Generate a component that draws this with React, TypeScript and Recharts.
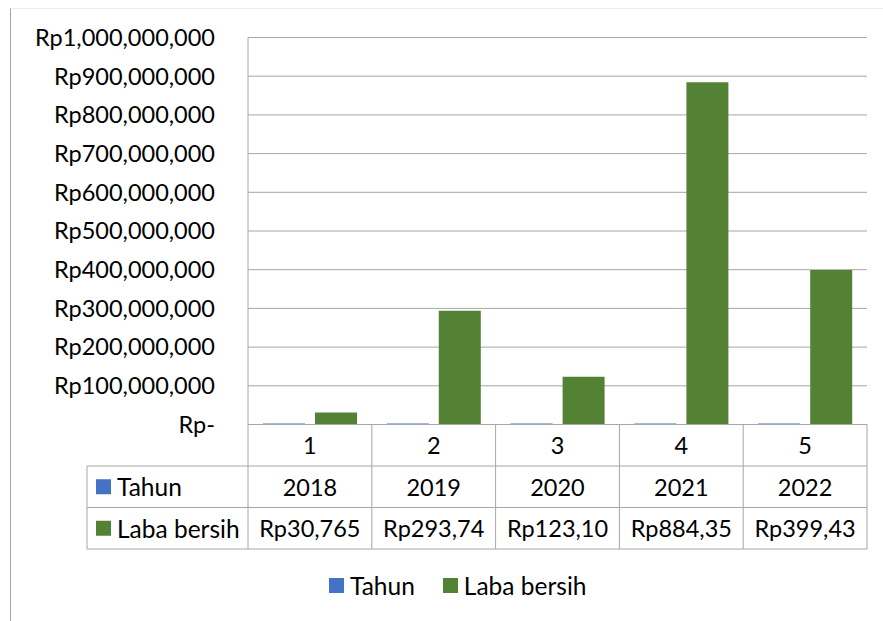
import React from "react"
import { ComposedChart, Bar, XAxis, YAxis, CartesianGrid, Legend } from "recharts"

// category labels (row 1 of the data table)
const categories = ["1", "2", "3", "4", "5"]
// "Tahun" series
const tahun = [2018, 2019, 2020, 2021, 2022]
// "Laba bersih" series (rupiah)
const labaBersih = [30765000, 293740000, 123100000, 884350000, 399430000]
// how the table cells show the laba values (truncated in the original)
const labaLabels = ["Rp30,765", "Rp293,74", "Rp123,10", "Rp884,35", "Rp399,43"]
const yTicks = [0, 100000000, 200000000, 300000000, 400000000, 500000000, 600000000, 700000000, 800000000, 900000000, 1000000000]

const seriesNames = ["Tahun", "Laba bersih"]
const seriesColors = ["#4472C4", "#548235"]

const data = categories.map((c, i) => ({ category: c, tahun: tahun[i], laba: labaBersih[i] }))

const W = 883
const H = 621
const PLOT_LEFT = 248
const PLOT_RIGHT = 867
const PLOT_TOP = 37.5
const PLOT_BOTTOM = 424.5
const ROW_H = 41.5
const TABLE_LEFT = 87
const GRID = "#a6a6a6"
const FONT = 23.5

const formatRp = (v: number) => (v === 0 ? "Rp-" : "Rp" + v.toLocaleString("en-US"))

const TableTick = (props: any) => {
  const { x, y, payload } = props
  const idx = payload.index ?? props.index ?? 0
  const half = (PLOT_RIGHT - PLOT_LEFT) / categories.length / 2
  const cells = [String(payload.value), String(tahun[idx]), labaLabels[idx]]
  return (
    <g>
      {idx === 0 && <line x1={x - half} y1={y} x2={x - half} y2={y + 3 * ROW_H} stroke={GRID} />}
      <line x1={x + half} y1={y} x2={x + half} y2={y + 3 * ROW_H} stroke={GRID} />
      {[0, 1, 2, 3].map((r) => (
        <line key={r} x1={x - half} y1={y + r * ROW_H} x2={x + half} y2={y + r * ROW_H} stroke={GRID} />
      ))}
      {cells.map((t, r) => (
        <text
          key={"t" + r}
          x={x}
          y={y + r * ROW_H + ROW_H / 2}
          textAnchor="middle"
          dominantBaseline="central"
          fill="#000"
          fontSize={FONT}
        >
          {t}
        </text>
      ))}
    </g>
  )
}

const LegendContent = (props: any) => {
  const items = [...(props.payload || [])].sort(
    (a: any, b: any) => seriesNames.indexOf(a.value) - seriesNames.indexOf(b.value),
  )
  return (
    <div style={{ display: "flex", alignItems: "center", gap: 28, fontSize: 24.5, color: "#000", whiteSpace: "nowrap" }}>
      {items.map((it: any) => (
        <div key={it.value} style={{ display: "flex", alignItems: "center", gap: 6 }}>
          <span style={{ width: 15, height: 15, background: it.color, display: "inline-block" }} />
          <span>{it.value}</span>
        </div>
      ))}
    </div>
  )
}

export default function App() {
  const rowTop = PLOT_BOTTOM + ROW_H
  return (
    <div style={{ position: "absolute", left: 0, top: 0, width: W, height: H, fontFamily: "Lato", background: "#fff" }}>
      <div
        style={{
          position: "absolute",
          left: 10,
          top: 8,
          width: W - 10,
          height: H - 8,
          borderLeft: "1px solid #a6a6a6",
          borderTop: "1px solid #eeeeee",
        }}
      />
      <ComposedChart
        width={W}
        height={H}
        data={data}
        margin={{ top: PLOT_TOP, right: W - PLOT_RIGHT, left: 0, bottom: H - PLOT_BOTTOM - 3 * ROW_H }}
        barGap={10}
        style={{ position: "absolute", left: 0, top: 0 }}
      >
        <CartesianGrid vertical={false} stroke={GRID} />
        <XAxis
          dataKey="category"
          height={3 * ROW_H}
          axisLine={false}
          tickLine={false}
          tickSize={0}
          tickMargin={0}
          interval={0}
          tick={<TableTick />}
        />
        <YAxis
          width={PLOT_LEFT}
          domain={[0, 1000000000]}
          ticks={yTicks}
          tickFormatter={formatRp}
          axisLine={{ stroke: GRID }}
          tickLine={false}
          tickSize={0}
          tickMargin={33}
          tick={{ fill: "#000", fontSize: FONT }}
        />
        <Legend
          verticalAlign="middle"
          align="center"
          content={<LegendContent />}
          wrapperStyle={{ top: 571, left: 329, width: "auto" }}
        />
        <Bar dataKey="tahun" name={seriesNames[0]} fill={seriesColors[0]} barSize={42} minPointSize={1} isAnimationActive={false} />
        <Bar dataKey="laba" name={seriesNames[1]} fill={seriesColors[1]} barSize={42} isAnimationActive={false} />
      </ComposedChart>
      <svg width={W} height={H} style={{ position: "absolute", left: 0, top: 0, pointerEvents: "none" }}>
        <line x1={TABLE_LEFT} y1={rowTop} x2={TABLE_LEFT} y2={rowTop + 2 * ROW_H} stroke={GRID} />
        {[0, 1, 2].map((r) => (
          <line key={r} x1={TABLE_LEFT} y1={rowTop + r * ROW_H} x2={PLOT_LEFT} y2={rowTop + r * ROW_H} stroke={GRID} />
        ))}
        {seriesNames.map((n, r) => (
          <g key={n}>
            <rect x={96} y={rowTop + r * ROW_H + ROW_H / 2 - 7.5} width={15} height={15} fill={seriesColors[r]} />
            <text
              x={117}
              y={rowTop + r * ROW_H + ROW_H / 2}
              dominantBaseline="central"
              fontSize={24.5}
              fill="#000"
              fontFamily="Lato"
            >
              {n}
            </text>
          </g>
        ))}
      </svg>
    </div>
  )
}
